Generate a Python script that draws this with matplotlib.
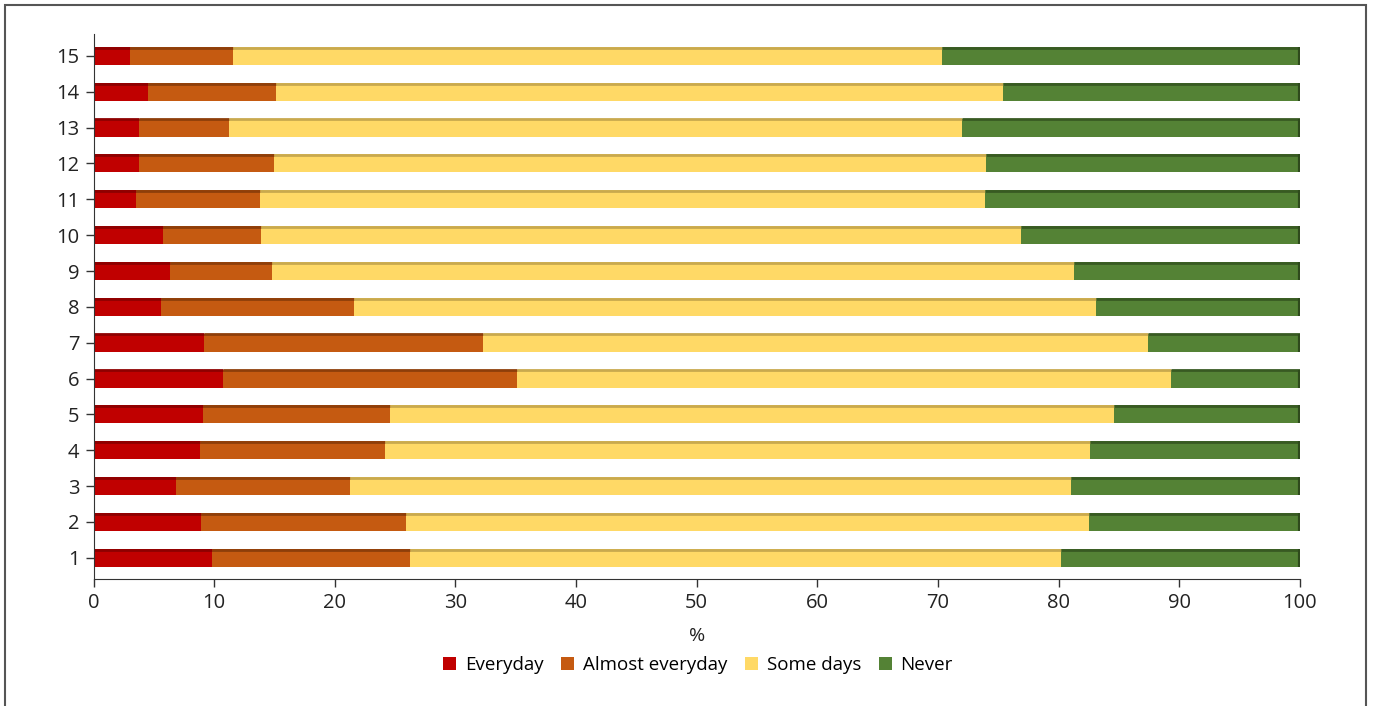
import matplotlib.pyplot as plt
import numpy as np
from matplotlib.patches import Rectangle

plt.rcParams['font.family'] = ['Open Sans', 'DejaVu Sans']

# groups 1..15 (bottom to top)
groups = [str(i) for i in range(1, 16)]

everyday = [9.8, 8.9, 6.8, 8.8, 9.1, 10.7, 9.2, 5.6, 6.3, 5.8, 3.5, 3.8, 3.8, 4.5, 3.0]
almost_everyday = [16.4, 17.0, 14.5, 15.4, 15.5, 24.4, 23.1, 16.0, 8.5, 8.1, 10.3, 11.2, 7.4, 10.6, 8.6]
some_days = [54.0, 56.6, 59.7, 58.4, 60.0, 54.2, 55.1, 61.5, 66.5, 63.0, 60.1, 59.0, 60.8, 60.3, 58.7]
never = [100 - a - b - c for a, b, c in zip(everyday, almost_everyday, some_days)]

series = [everyday, almost_everyday, some_days, never]
labels = ["Everyday", "Almost everyday", "Some days", "Never"]
colors = ["#C00000", "#C55A11", "#FFD966", "#548235"]
top_colors = ["#8E0000", "#8E3E0A", "#C9A94E", "#385A22"]

fig = plt.figure(figsize=(13.73, 7.06), dpi=100)
ax = fig.add_axes([0.0681, 0.1799, 0.8787, 0.7719])

y = np.arange(1, 16)
h = 0.5
left = np.zeros(len(y))
for vals, lab, col, tcol in zip(series, labels, colors, top_colors):
    vals = np.array(vals)
    ax.barh(y, vals, height=h, left=left, color=col, label=lab, linewidth=0)
    # darker top strip for the bevelled look
    ax.hlines(y + h / 2 - 0.02, left, left + vals, colors=tcol, linewidth=2)
    left = left + vals

# dark cap at the right end of each bar
ax.vlines(left, y - h / 2, y + h / 2, colors="#2E4A1C", linewidth=3)

ax.set_xlim(0, 100)
ax.set_ylim(0.41, 15.61)
ax.set_xticks(range(0, 101, 10))
ax.set_yticks(y)
ax.set_yticklabels(groups)
ax.tick_params(axis='both', labelsize=14.5, labelcolor="#222222", length=6, width=1,
               pad=4, color="#333333")
for s in ["top", "right"]:
    ax.spines[s].set_visible(False)
for s in ["left", "bottom"]:
    ax.spines[s].set_color("#333333")
ax.set_xlabel("%", fontsize=14, color="#222222", labelpad=10)

ax.legend(loc="center", bbox_to_anchor=(0.501, -0.158), ncol=4, frameon=False,
          fontsize=13.5, handlelength=0.7, handleheight=0.7, handletextpad=0.45,
          columnspacing=0.95)

# outer frame (open at the bottom)
fig.patches.append(Rectangle((5 / 1373, -0.05), 1361 / 1373, 1.05 - 5 / 706,
                             transform=fig.transFigure, fill=False,
                             edgecolor="#555555", linewidth=1.5))

fig.savefig("out.png", dpi=100)
